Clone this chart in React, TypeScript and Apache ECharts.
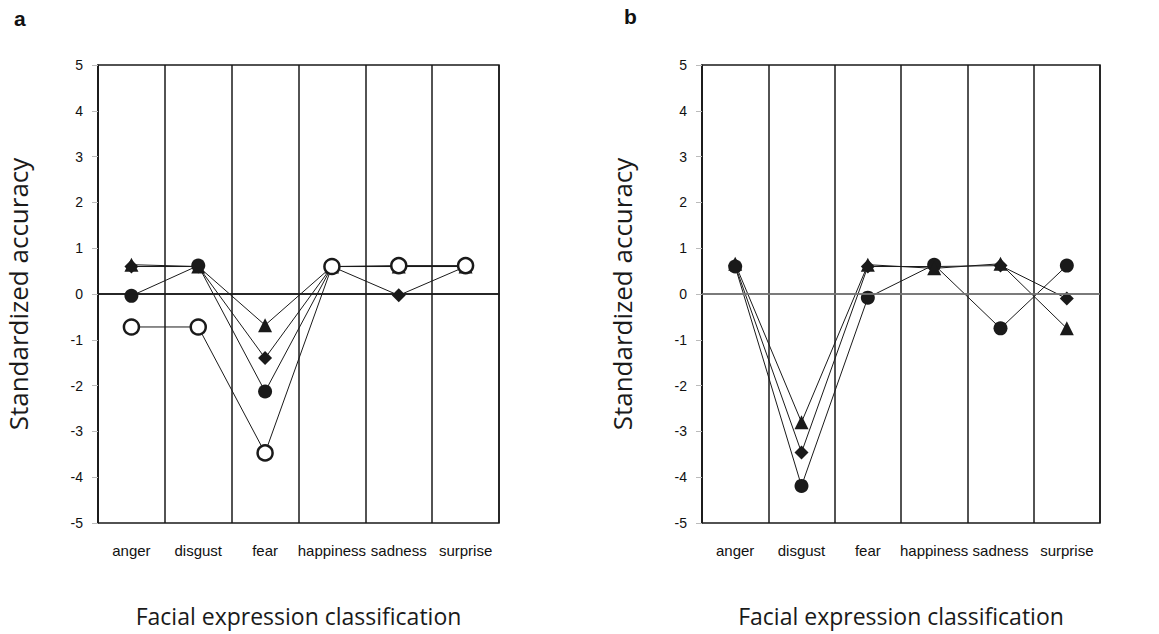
import React, { useEffect, useRef } from "react";
import * as echarts from "echarts";

const categories = ["anger", "disgust", "fear", "happiness", "sadness", "surprise"];
const yTicks = [-5, 5, 1];

// Panel a
const aDiamond = [0.6, 0.6, -1.4, 0.6, -0.03, 0.6];
const aTriangle = [0.64, 0.6, -0.68, 0.6, 0.6, 0.6];
const aFilledCircle = [-0.04, 0.62, -2.13, 0.6, 0.6, 0.6];
const aOpenCircle = [-0.72, -0.72, -3.47, 0.6, 0.62, 0.62];

// Panel b
const bDiamond = [0.62, -3.46, 0.6, 0.6, 0.62, -0.1];
const bCircle = [0.6, -4.19, -0.08, 0.64, -0.75, 0.62];
const bTriangle = [0.66, -2.8, 0.64, 0.56, 0.66, -0.75];

const INK = "#1a1a1a";

function xAxis(gridIndex: number) {
  return {
    type: "category",
    gridIndex,
    data: categories,
    boundaryGap: true,
    axisLine: { show: true, lineStyle: { color: INK, width: 1.5 } },
    axisTick: { show: false },
    splitLine: { show: true, interval: 0, lineStyle: { color: INK, width: 1.5 } },
    axisLabel: {
      interval: 0,
      margin: 20,
      fontSize: 15,
      color: "#111",
      fontFamily: "Liberation Sans, Arial, sans-serif",
    },
    name: "Facial expression classification",
    nameLocation: "middle",
    nameGap: 81,
    nameTextStyle: { fontSize: 23, color: "#1a1a1a", fontFamily: "Open Sans, sans-serif" },
  };
}

function yAxis(gridIndex: number) {
  return {
    type: "value",
    gridIndex,
    min: yTicks[0],
    max: yTicks[1],
    interval: yTicks[2],
    axisLine: { show: true, lineStyle: { color: INK, width: 1.5 } },
    axisTick: { show: true, length: 6, lineStyle: { color: "#bbb", width: 1 } },
    splitLine: { show: false },
    axisLabel: {
      margin: 15,
      fontSize: 14,
      color: "#111",
      fontFamily: "Liberation Sans, Arial, sans-serif",
    },
    name: "Standardized accuracy",
    nameLocation: "middle",
    nameGap: 67,
    nameTextStyle: { fontSize: 26, color: "#1a1a1a", fontFamily: "Open Sans, sans-serif" },
  };
}

function lineSeries(idx: number, data: number[], symbol: string, size: number, open = false, zeroColor?: string) {
  const s: any = {
    type: "line",
    xAxisIndex: idx,
    yAxisIndex: idx,
    data,
    symbol,
    symbolSize: size,
    showSymbol: true,
    lineStyle: { color: INK, width: 1 },
    itemStyle: open
      ? { color: "#fff", borderColor: INK, borderWidth: 2.5 }
      : { color: INK, borderColor: INK, borderWidth: 0 },
    emphasis: { disabled: true },
    silent: true,
  };
  if (zeroColor) {
    s.markLine = {
      silent: true,
      symbol: ["none", "none"],
      label: { show: false },
      lineStyle: { color: zeroColor, width: 1.5, type: "solid" },
      data: [{ yAxis: 0 }],
    };
  }
  return s;
}

export default function App() {
  const ref = useRef<HTMLDivElement>(null);
  useEffect(() => {
    document.body.style.margin = "0";
    const chart = echarts.init(ref.current!, undefined, { renderer: "svg" });
    chart.setOption({
      animation: false,
      backgroundColor: "#fff",
      grid: [
        { left: 98, top: 65, width: 401, height: 458, show: true, borderColor: INK, borderWidth: 1.5, backgroundColor: "transparent" },
        { left: 702, top: 65, width: 398, height: 458, show: true, borderColor: INK, borderWidth: 1.5, backgroundColor: "transparent" },
      ],
      xAxis: [xAxis(0), xAxis(1)],
      yAxis: [yAxis(0), yAxis(1)],
      graphic: [
        { type: "text", left: 14, top: 8, style: { text: "a", fontSize: 21, fontWeight: "bold", fill: "#111", fontFamily: "Liberation Sans, Arial, sans-serif" } },
        { type: "text", left: 624, top: 6, style: { text: "b", fontSize: 21, fontWeight: "bold", fill: "#111", fontFamily: "Liberation Sans, Arial, sans-serif" } },
      ],
      series: [
        lineSeries(0, aDiamond, "diamond", 14, false, INK),
        lineSeries(0, aTriangle, "triangle", 14),
        lineSeries(0, aFilledCircle, "circle", 14),
        lineSeries(0, aOpenCircle, "circle", 15, true),
        lineSeries(1, bDiamond, "diamond", 14, false, "#888"),
        lineSeries(1, bCircle, "circle", 14),
        lineSeries(1, bTriangle, "triangle", 14),
      ],
    });
    return () => chart.dispose();
  }, []);
  return <div ref={ref} style={{ width: 1159, height: 634 }} />;
}
